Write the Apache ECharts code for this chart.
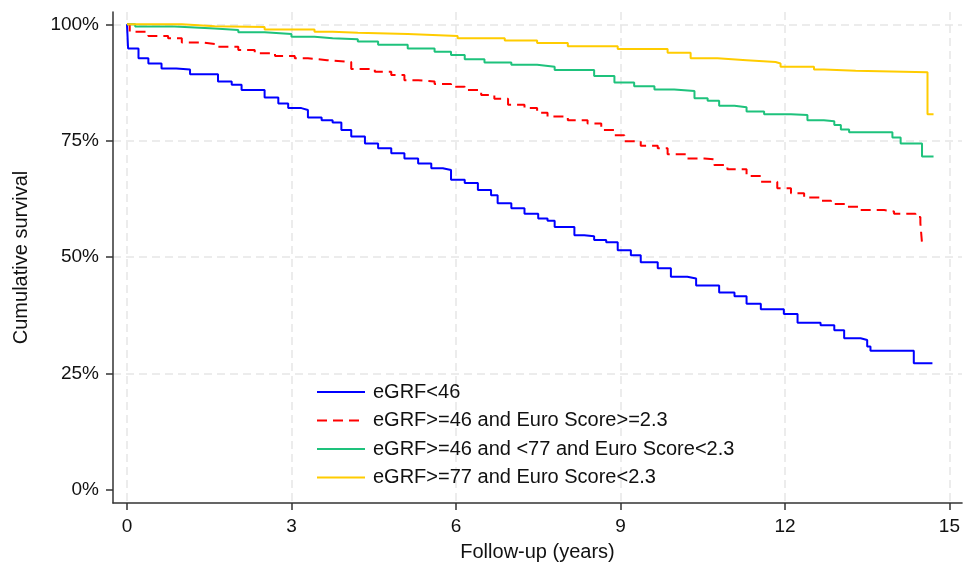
<!DOCTYPE html>
<html>
<head>
<meta charset="utf-8">
<script src="https://cdn.jsdelivr.net/npm/echarts@6/dist/echarts.min.js"></script>
<style>
  html, body { margin: 0; padding: 0; background: #fff; }
  #chart { width: 963px; height: 568px; }
</style>
</head>
<body>
<div id="chart"></div>
<script>
// Kaplan-Meier curves, time in years, survival in %
const lowTime = [0, 0.02, 0.21, 0.39, 0.63, 0.9, 1.15, 1.66, 1.91, 2.09, 2.51, 2.76, 2.94, 3.18, 3.30, 3.55, 3.75, 3.91, 4.09, 4.34, 4.58, 4.82, 5.06, 5.31, 5.55, 5.76, 5.91, 6.16, 6.40, 6.64, 6.76, 7.01, 7.25, 7.50, 7.67, 7.80, 8.16, 8.34, 8.52, 8.74, 8.95, 9.19, 9.37, 9.68, 9.92, 10.22, 10.38, 10.80, 11.08, 11.30, 11.56, 11.98, 12.23, 12.65, 12.90, 13.08, 13.38, 13.50, 13.56, 14.35, 14.69]
const lowSurv = [100, 94.8, 92.7, 91.6, 90.5, 90.3, 89.3, 87.7, 87.0, 85.9, 84.3, 83.0, 82.0, 81.6, 80.0, 79.4, 78.9, 77.3, 75.9, 74.4, 73.4, 72.3, 71.2, 70.1, 69.1, 68.7, 66.6, 65.9, 64.4, 63.3, 61.6, 60.5, 59.3, 58.3, 57.8, 56.5, 54.7, 54.5, 53.7, 53.2, 51.5, 50.4, 48.9, 47.6, 45.8, 45.4, 43.9, 42.4, 41.6, 40.0, 38.8, 37.8, 35.9, 35.4, 34.3, 32.6, 32.2, 30.8, 29.9, 27.2, 27.2]

const highEuroTime = [0, 0.05, 0.39, 0.75, 1.0, 1.36, 1.66, 2.03, 2.33, 2.70, 3.06, 3.30, 3.65, 4.09, 4.52, 4.82, 5.06, 5.31, 5.61, 5.91, 6.16, 6.46, 6.70, 6.95, 7.25, 7.48, 7.67, 8.04, 8.40, 8.65, 8.89, 9.07, 9.37, 9.68, 9.86, 10.22, 10.53, 10.71, 10.95, 11.30, 11.56, 11.86, 12.11, 12.35, 12.65, 12.84, 13.14, 13.38, 13.81, 13.99, 14.38, 14.47, 14.50, 14.57]
const highEuroSurv = [100, 98.4, 97.5, 97.0, 96.1, 95.7, 95.2, 94.5, 93.8, 93.2, 92.7, 92.3, 91.9, 90.4, 89.8, 89.1, 88.0, 87.7, 87.2, 86.6, 85.9, 84.8, 84.0, 82.7, 82.0, 81.0, 80.2, 79.4, 78.7, 77.3, 76.2, 74.9, 73.9, 73.4, 72.1, 71.2, 71.0, 69.8, 68.9, 67.4, 66.2, 64.8, 63.7, 62.8, 62.1, 61.4, 60.8, 60.1, 59.8, 59.3, 58.6, 57.3, 53.0, 53.0]

const midTime = [0, 0.15, 0.87, 1.60, 2.03, 2.51, 3.0, 3.42, 3.75, 4.21, 4.58, 5.12, 5.61, 5.91, 6.16, 6.52, 7.01, 7.48, 7.80, 8.52, 8.89, 9.25, 9.62, 9.98, 10.35, 10.59, 10.80, 11.08, 11.30, 11.62, 12.11, 12.41, 12.71, 12.90, 13.02, 13.17, 13.96, 14.11, 14.50, 14.71]
const midSurv = [100, 99.5, 99.1, 98.8, 98.3, 97.9, 97.3, 97.0, 96.8, 96.3, 95.6, 94.8, 94.1, 93.4, 92.5, 91.8, 91.3, 90.9, 90.2, 88.9, 87.5, 86.7, 86.0, 85.7, 84.1, 83.6, 82.5, 82.2, 81.3, 80.7, 80.5, 79.4, 79.2, 78.4, 77.4, 76.8, 75.7, 74.4, 71.6, 71.6]

const highTime = [0, 1.0, 1.60, 2.51, 3.42, 3.75, 4.21, 5.12, 6.03, 6.89, 7.48, 8.04, 8.95, 9.86, 10.28, 10.77, 11.30, 11.83, 11.92, 12.53, 12.71, 13.29, 14.60, 14.71]
const highSurv = [100, 99.6, 99.4, 98.9, 98.4, 98.2, 97.9, 97.5, 97.0, 96.5, 96.0, 95.3, 94.7, 93.9, 92.7, 92.3, 91.9, 91.6, 90.9, 90.3, 90.0, 89.7, 80.7, 80.7]

const seriesNames = [
  'eGRF<46',
  'eGRF>=46 and Euro Score>=2.3',
  'eGRF>=46 and <77 and Euro Score<2.3',
  'eGRF>=77 and Euro Score<2.3'
]
const xTicks = [0, 3, 6, 9, 12, 15]
const yTicks = [0, 25, 50, 75, 100]

function zip(t, s) {
  return t.map((v, i) => [v, s[i]])
}

const font = 'Liberation Sans, Arial, sans-serif'
const axisColor = '#333'
const gridLine = { show: true, lineStyle: { color: '#e6e6e6', width: 1.5, type: [8, 5] } }

const chart = echarts.init(document.getElementById('chart'))

function line(name, data, color, dashed) {
  return {
    name: name,
    type: 'line',
    step: 'end',
    symbol: 'none',
    data: data,
    lineStyle: { color: color, width: 2, type: dashed ? [10, 6] : 'solid' },
    itemStyle: { color: color }
  }
}

chart.setOption({
  animation: false,
  grid: { left: 113, right: 0, top: 12, bottom: 65, containLabel: false },
  legend: {
    orient: 'vertical',
    left: 311,
    top: 377,
    itemWidth: 48,
    itemHeight: 14,
    itemGap: 8.5,
    itemStyle: { opacity: 0 },
    textStyle: { fontFamily: font, fontSize: 20, color: '#111', lineHeight: 20, padding: [0, 0, 0, 3] },
    data: seriesNames
  },
  xAxis: {
    type: 'value',
    min: -0.255,
    max: 15.23,
    name: 'Follow-up (years)',
    nameLocation: 'middle',
    nameGap: 39,
    nameTextStyle: { fontFamily: font, fontSize: 20, color: '#111' },
    axisLine: { show: true, onZero: false, lineStyle: { color: axisColor, width: 1.5 } },
    axisTick: { show: true, length: 7, customValues: xTicks, lineStyle: { color: axisColor, width: 1.5 } },
    axisLabel: { customValues: xTicks, margin: 14, fontFamily: font, fontSize: 19, color: '#111' },
    splitLine: gridLine
  },
  yAxis: {
    type: 'value',
    min: -2.79,
    max: 102.64,
    name: 'Cumulative survival',
    nameLocation: 'middle',
    nameGap: 82,
    nameTextStyle: { fontFamily: font, fontSize: 20, color: '#111' },
    axisLine: { show: true, onZero: false, lineStyle: { color: axisColor, width: 1.5 } },
    axisTick: { show: true, length: 7, customValues: yTicks, lineStyle: { color: axisColor, width: 1.5 } },
    axisLabel: { customValues: yTicks, margin: 14, fontFamily: font, fontSize: 19, color: '#111', formatter: v => v + '%' },
    splitLine: { show: true, lineStyle: { color: ['rgba(0,0,0,0)', '#e6e6e6', '#e6e6e6', '#e6e6e6', '#e6e6e6'], width: 1.5, type: [8, 5] } }
  },
  series: [
    line(seriesNames[0], zip(lowTime, lowSurv), '#0000ff', false),
    line(seriesNames[1], zip(highEuroTime, highEuroSurv), '#ff0000', true),
    line(seriesNames[2], zip(midTime, midSurv), '#1ec27c', false),
    line(seriesNames[3], zip(highTime, highSurv), '#ffcc00', false)
  ]
})
</script>
</body>
</html>
